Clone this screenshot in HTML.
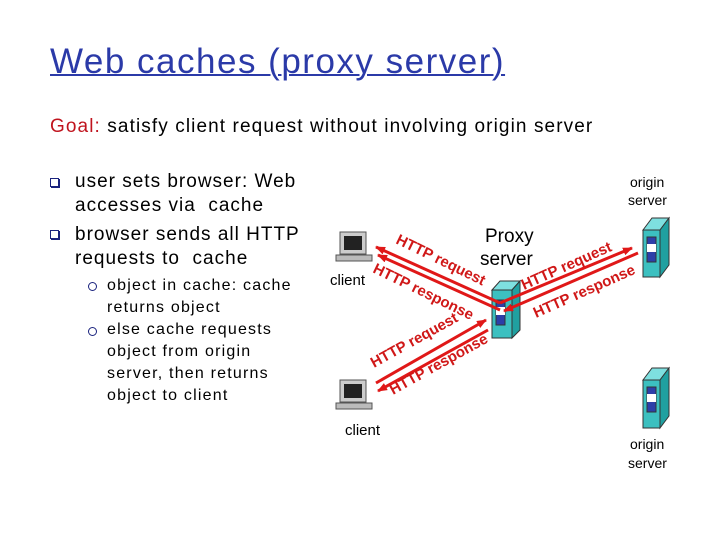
<!DOCTYPE html><html><head><style>
body{margin:0;width:720px;height:540px;background:#fff;position:relative;overflow:hidden;font-family:"Liberation Sans",sans-serif}
.t{position:absolute;white-space:nowrap}
.b{position:absolute;width:9px;height:9px;border:1.5px solid #1a237e;box-sizing:border-box;box-shadow:1px 1px 0 #1a237e}
.c{position:absolute;width:9px;height:9px;border:1.5px solid #1a237e;border-radius:50%;box-sizing:border-box}
</style></head><body>
<div class="t" style="left:50px;top:42px;font-size:35px;letter-spacing:1.5px;color:#2b3aa8;text-decoration:underline;text-decoration-thickness:2px">Web caches (proxy server)</div>
<div class="t" style="left:50px;top:116px;font-size:19px;letter-spacing:1.1px"><span style="color:#c0141e">Goal:</span> satisfy client request without involving origin server</div>
<div class="b" style="left:50px;top:178px"></div>
<div class="t" style="left:75px;top:170px;font-size:19px;line-height:24px;letter-spacing:1px">user sets browser: Web<br>accesses via&nbsp; cache</div>
<div class="b" style="left:50px;top:230px"></div>
<div class="t" style="left:75px;top:223px;font-size:19px;line-height:24px;letter-spacing:1px">browser sends all HTTP<br>requests to&nbsp; cache</div>
<div class="c" style="left:88px;top:282px"></div>
<div class="c" style="left:88px;top:327px"></div>
<div class="t" style="left:107px;top:275px;font-size:16px;line-height:22px;letter-spacing:1.2px">object in cache: cache<br>returns object<br>else cache requests<br>object from origin<br>server, then returns<br>object to client</div>
<svg width="720" height="540" style="position:absolute;left:0;top:0">
<defs><marker id="a" markerUnits="userSpaceOnUse" markerWidth="10" markerHeight="8" refX="9" refY="4" orient="auto"><path d="M0,0L10,4L0,8z" fill="#e01818"/></marker></defs>
<g><rect x="340" y="232" width="26" height="22" fill="#ccc" stroke="#555"/><rect x="344" y="236" width="18" height="14" fill="#222"/><rect x="336" y="255" width="36" height="6" fill="#bbb" stroke="#555"/>
<rect x="340" y="380" width="26" height="22" fill="#ccc" stroke="#555"/><rect x="344" y="384" width="18" height="14" fill="#222"/><rect x="336" y="403" width="36" height="6" fill="#bbb" stroke="#555"/></g>
<g stroke="#333" stroke-width="1">
<polygon points="492,290 512,290 512,338 492,338" fill="#3cc0c0"/><polygon points="492,290 500,281 520,281 512,290" fill="#7ee0e0"/><polygon points="512,290 520,281 520,330 512,338" fill="#20a0a0"/>
<rect x="496" y="300" width="9" height="25" fill="#2c3fa8"/><rect x="496" y="307" width="9" height="8" fill="#fff" stroke="none"/>
<polygon points="643,230 660,230 660,277 643,277" fill="#3cc0c0"/><polygon points="643,230 652,218 669,218 660,230" fill="#7ee0e0"/><polygon points="660,230 669,218 669,265 660,277" fill="#20a0a0"/>
<rect x="647" y="237" width="9" height="25" fill="#2c3fa8"/><rect x="647" y="244" width="9" height="8" fill="#fff" stroke="none"/>
<polygon points="643,380 660,380 660,428 643,428" fill="#3cc0c0"/><polygon points="643,380 652,368 669,368 660,380" fill="#7ee0e0"/><polygon points="660,380 669,368 669,416 660,428" fill="#20a0a0"/>
<rect x="647" y="387" width="9" height="25" fill="#2c3fa8"/><rect x="647" y="394" width="9" height="8" fill="#fff" stroke="none"/></g>
<g stroke="#e01818" stroke-width="3" marker-end="url(#a)">
<line x1="500" y1="303" x2="376" y2="247"/>
<line x1="500" y1="310" x2="378" y2="255"/>
<line x1="500" y1="303" x2="632" y2="248"/>
<line x1="638" y1="253" x2="504" y2="311"/>
<line x1="376" y1="383" x2="486" y2="320"/>
<line x1="488" y1="330" x2="378" y2="391"/>
</g>
<g fill="#d01818" font-family="Liberation Sans" font-size="15" font-weight="bold">
<text transform="translate(395,243) rotate(26)">HTTP request</text>
<text transform="translate(372,272) rotate(26)">HTTP response</text>
<text transform="translate(524,290) rotate(-24)">HTTP request</text>
<text transform="translate(536,318) rotate(-24)">HTTP response</text>
<text transform="translate(374,368) rotate(-29)">HTTP request</text>
<text transform="translate(393,395) rotate(-29)">HTTP response</text>
</g>
<g font-family="Liberation Sans" fill="#000">
<text x="330" y="285" font-size="15">client</text>
<text x="345" y="435" font-size="15">client</text>
<text x="485" y="242" font-size="19">Proxy</text>
<text x="480" y="265" font-size="19">server</text>
<text x="630" y="187" font-size="14">origin</text>
<text x="628" y="205" font-size="14">server</text>
<text x="630" y="449" font-size="14">origin</text>
<text x="628" y="468" font-size="14">server</text>
</g>
</svg>
</body></html>
